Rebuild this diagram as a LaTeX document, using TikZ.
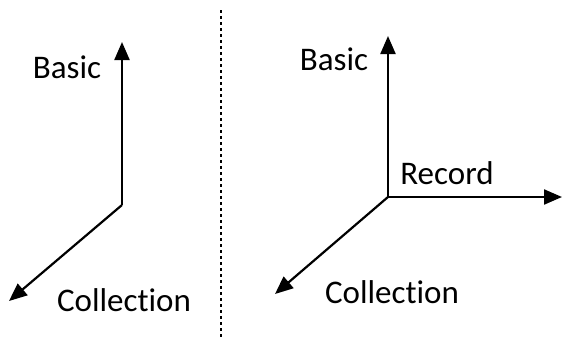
\documentclass[tikz,border=0pt]{standalone}
\usepackage{fontspec}
\setmainfont{Carlito}[Ligatures=NoCommon]
\usetikzlibrary{arrows.meta}
\tikzset{
  axis/.style={line width=2.2pt, -{Triangle[length=18pt,width=15pt]}},
  lbl/.style={font=\fontsize{33}{36}\selectfont, inner sep=0pt},
  divider/.style={line width=2.6pt, dash pattern=on 2.6pt off 3.4pt}
}
\begin{document}
\begin{tikzpicture}[x=1pt,y=-1pt]
  \useasboundingbox (0,0) rectangle (563,338);
  % left figure: two axes
  \coordinate (o1) at (122,205);
  \coordinate (u1) at (122,42);
  \coordinate (c1) at (9,301);
  \draw[axis] (o1) -- (u1);
  \draw[axis] (o1) -- (c1);
  \node[lbl] (b1) at (67,67) {Basic};
  \node[lbl] (col1) at (124,300) {Collection};
  % separator
  \coordinate (s1) at (221,10);
  \coordinate (s2) at (221,338);
  \draw[divider] (s1) -- (s2);
  % right figure: three axes
  \coordinate (o2) at (388,197);
  \coordinate (u2) at (388,36);
  \coordinate (r2) at (562,197);
  \coordinate (c2) at (275,294);
  \draw[axis] (o2) -- (u2);
  \draw[axis] (o2) -- (r2);
  \draw[axis] (o2) -- (c2);
  \node[lbl] (b2) at (334,59) {Basic};
  \node[lbl] (rec2) at (447,173) {Record};
  \node[lbl] (col2) at (392,292) {Collection};
\end{tikzpicture}
\end{document}
